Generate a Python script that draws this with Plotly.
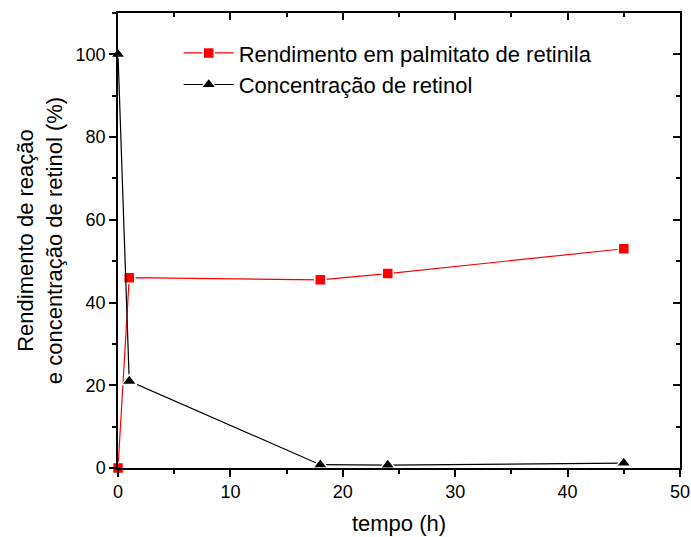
import plotly.graph_objects as go

tempo = [0, 1, 18, 24, 45]
rendimento = [0, 46, 45.5, 47, 53]
concentracao = [100, 21, 0.8, 0.7, 1.2]

x_ticks = [0, 10, 20, 30, 40, 50]
y_ticks = [0, 20, 40, 60, 80, 100]

font = "Liberation Sans, Arial, sans-serif"

fig = go.Figure()
fig.add_trace(go.Scatter(
    x=tempo, y=rendimento, mode="lines+markers",
    name="Rendimento em palmitato de retinila",
    line=dict(color="#ff0000", width=1.2),
    marker=dict(symbol="square", size=11, color="#ff0000", line=dict(color="white", width=1.5)),
    cliponaxis=False,
))
fig.add_trace(go.Scatter(
    x=tempo, y=concentracao, mode="lines+markers",
    name="Concentração de retinol",
    line=dict(color="black", width=1.2),
    marker=dict(symbol="triangle-up", size=13, color="black", line=dict(color="white", width=1.5)),
    cliponaxis=False,
))
fig.add_trace(go.Scatter(x=[None], y=[None], xaxis="x2", yaxis="y2", showlegend=False, hoverinfo="skip"))

axis_common = dict(showline=True, linecolor="black", linewidth=1.5, showgrid=False, zeroline=False,
                   ticklen=7, tickwidth=1.5, tickcolor="black", automargin=False,
                   tickfont=dict(family=font, size=18, color="black"))

fig.update_layout(
    width=691, height=537,
    margin=dict(l=118, r=11, t=13, b=69),
    paper_bgcolor="white", plot_bgcolor="white",
    font=dict(family=font, color="black"),
    showlegend=True,
    legend=dict(x=0.108, y=0.958, xanchor="left", yanchor="top", bgcolor="rgba(0,0,0,0)",
                font=dict(family=font, size=22, color="black"), tracegroupgap=0, itemwidth=50),
    xaxis=dict(range=[0, 50], tickvals=x_ticks, ticks="outside",
               minor=dict(dtick=5, ticklen=4, tickwidth=1.5, tickcolor="black", ticks="outside"),
               title=dict(text="tempo (h)", font=dict(family=font, size=22), standoff=14),
               **axis_common),
    yaxis=dict(range=[0, 110], tickvals=y_ticks, ticks="outside",
               minor=dict(dtick=10, ticklen=4, tickwidth=1.5, tickcolor="black", ticks="outside"),
               title=dict(text="Rendimento de reação<br>e concentração de retinol (%)",
                          font=dict(family=font, size=22), standoff=7),
               **axis_common),
    xaxis2=dict(range=[0, 50], overlaying="x", side="top", tickvals=x_ticks, ticks="inside",
                showticklabels=False,
                minor=dict(dtick=5, ticklen=4, tickwidth=1.5, tickcolor="black", ticks="inside"),
                **axis_common),
    yaxis2=dict(range=[0, 110], overlaying="y", side="right", tickvals=y_ticks, ticks="inside",
                showticklabels=False,
                minor=dict(dtick=10, ticklen=4, tickwidth=1.5, tickcolor="black", ticks="inside"),
                **axis_common),
)

fig.write_html("out.html")
